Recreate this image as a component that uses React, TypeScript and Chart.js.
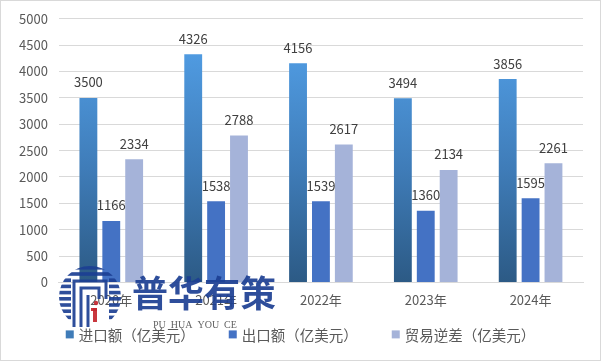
import React, { useEffect, useRef } from "react";
import { Chart, registerables } from "chart.js";

Chart.register(...registerables);

const categories = ["2020年", "2021年", "2022年", "2023年", "2024年"];
const importValues = [3500, 4326, 4156, 3494, 3856];
const exportValues = [1166, 1538, 1539, 1360, 1595];
const deficitValues = [2334, 2788, 2617, 2134, 2261];
const seriesNames = ["进口额（亿美元）", "出口额（亿美元）", "贸易逆差（亿美元）"];
const seriesColors = ["#3f7cb8", "#4472c4", "#a5b3d9"];

const FONT = "'Noto Sans CJK SC', 'Noto Sans', sans-serif";

export default function App() {
  const ref = useRef<HTMLCanvasElement>(null);

  useEffect(() => {
    const canvas = ref.current!;
    const ctx = canvas.getContext("2d")!;

    const importGradient = (context: any) => {
      const chart = context.chart;
      const area = chart.chartArea;
      if (!area) return seriesColors[0];
      const y = chart.scales.y;
      const g = chart.ctx.createLinearGradient(0, y.getPixelForValue(4300), 0, area.bottom);
      g.addColorStop(0, "#4f9ae0");
      g.addColorStop(0.5, "#3f7cb8");
      g.addColorStop(1, "#2c5a85");
      return g;
    };

    const labelPlugin = {
      id: "valueLabels",
      afterDatasetsDraw(chart: any) {
        const c = chart.ctx;
        c.save();
        c.font = `13px ${FONT}`;
        c.fillStyle = "#404040";
        c.textAlign = "center";
        c.textBaseline = "bottom";
        chart.data.datasets.forEach((ds: any, di: number) => {
          const meta = chart.getDatasetMeta(di);
          meta.data.forEach((bar: any, i: number) => {
            c.fillText(String(ds.data[i]), bar.x, bar.y - 9);
          });
        });
        c.restore();
      },
    };

    const legendPlugin = {
      id: "customLegend",
      afterDraw(chart: any) {
        const c = chart.ctx;
        c.save();
        c.font = `14.5px ${FONT}`;
        const box = 8;
        const boxGap = 5;
        const itemGap = 34;
        const widths = seriesNames.map((t) => box + boxGap + c.measureText(t).width);
        const total = widths.reduce((a, b) => a + b, 0) + itemGap * (widths.length - 1);
        let x = (chart.width - total) / 2;
        const cy = chart.chartArea.bottom + 52;
        seriesNames.forEach((t, i) => {
          c.fillStyle = seriesColors[i];
          c.fillRect(x, cy - box / 2, box, box);
          c.fillStyle = "#595959";
          c.textAlign = "left";
          c.textBaseline = "middle";
          c.fillText(t, x + box + boxGap, cy + 1);
          x += widths[i] + itemGap;
        });
        c.restore();
      },
    };

    const watermarkPlugin = {
      id: "watermark",
      afterDraw(chart: any) {
        const c = chart.ctx;
        const blue = "#1c3f93";
        const cx = 90, cy = 297, r = 31;
        c.save();
        c.globalAlpha = 0.92;
        c.beginPath();
        c.arc(cx, cy, r, 0, Math.PI * 2);
        c.clip();
        c.fillStyle = blue;
        for (let y = cy - r; y < cy + r; y += 6.2) {
          c.fillRect(cx - r, y, r - 19, 3.6);
          c.fillRect(cx + 19, y, r - 19, 3.6);
          if (y < cy - 19) c.fillRect(cx - 19, y, 38, 3.6);
        }
        c.restore();
        c.save();
        c.globalAlpha = 0.92;
        c.strokeStyle = blue;
        c.lineWidth = 3;
        c.beginPath();
        c.moveTo(cx - 16, cy + 30);
        c.lineTo(cx - 16, cy - 16);
        c.lineTo(cx + 16, cy - 16);
        c.lineTo(cx + 16, cy + 2);
        c.moveTo(cx - 9, cy + 30);
        c.lineTo(cx - 9, cy - 9);
        c.lineTo(cx + 9, cy - 9);
        c.lineTo(cx + 9, cy + 2);
        c.moveTo(cx - 2, cy + 30);
        c.lineTo(cx - 2, cy - 2);
        c.stroke();
        c.fillStyle = "#c4262e";
        c.fillRect(cx + 3, cy + 11, 4, 14);
        c.fillRect(cx + 1, cy + 11, 6, 3);
        c.beginPath();
        c.arc(cx + 6, cy + 6, 2.2, 0, Math.PI * 2);
        c.fill();
        c.fillStyle = blue;
        c.font = `bold 36px ${FONT}`;
        c.textAlign = "left";
        c.textBaseline = "middle";
        c.fillText("普华有策", 132, 293);
        c.font = "10px 'Liberation Serif', serif";
        c.fillStyle = "#555555";
        c.fillText("PU  HUA  YOU  CE", 153, 325);
        c.globalAlpha = 1;
        c.strokeStyle = "#d9d9d9";
        c.lineWidth = 1;
        c.strokeRect(0.5, 0.5, 600, 360);
        c.restore();
      },
    };

    const chart = new Chart(ctx, {
      type: "bar",
      data: {
        labels: categories,
        datasets: [
          { label: seriesNames[0], data: importValues, backgroundColor: importGradient as any },
          { label: seriesNames[1], data: exportValues, backgroundColor: seriesColors[1] },
          { label: seriesNames[2], data: deficitValues, backgroundColor: seriesColors[2] },
        ],
      },
      options: {
        responsive: false,
        animation: false,
        layout: { padding: { left: 8, right: 18, top: 10, bottom: 43 } },
        datasets: {
          bar: { categoryPercentage: 0.655, barPercentage: 0.78 },
        },
        scales: {
          x: {
            grid: { display: false, drawTicks: false },
            border: { color: "#d9d9d9" },
            ticks: { color: "#595959", font: { family: FONT, size: 13 }, padding: 10 },
          },
          y: {
            min: 0,
            max: 5000,
            border: { display: false },
            grid: { color: "#d9d9d9", drawTicks: false },
            ticks: {
              stepSize: 500,
              color: "#595959",
              font: { family: FONT, size: 13 },
              padding: 11,
              callback: (v: any) => String(v),
            },
          },
        },
        plugins: {
          legend: { display: false },
          tooltip: { enabled: false },
        },
      },
      plugins: [labelPlugin, legendPlugin, watermarkPlugin],
    });

    return () => chart.destroy();
  }, []);

  return (
    <div style={{ position: "absolute", left: 0, top: 0, width: 601, height: 361, background: "#fff" }}>
      <canvas ref={ref} width={601} height={361} />
    </div>
  );
}
